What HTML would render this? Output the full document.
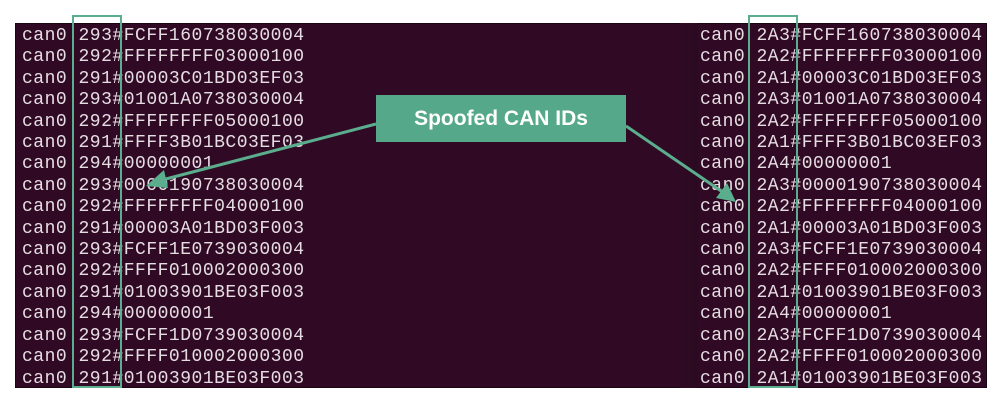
<!DOCTYPE html>
<html><head><style>
body{margin:0;width:1000px;height:401px;background:#fff;position:relative;overflow:hidden}
.panel{position:absolute;left:15px;top:23px;width:972px;height:365px;background:#300a24;border:1px solid #1a0612;box-sizing:border-box}
.dark{position:absolute;left:680px;top:23px;width:18px;height:365px;background:linear-gradient(90deg,#300a24,#2a0a20)}
.txt{position:absolute;top:26px;font-family:"Liberation Mono",monospace;font-size:18px;letter-spacing:0.5px;line-height:21.4px;color:#e6dde3;white-space:pre}
.box{position:absolute;top:15px;height:373px;border:2.5px solid #5aae8e;box-sizing:border-box}
.call{position:absolute;left:376px;top:95px;width:250px;height:47px;background:#55a98a;color:#fff;font-family:"Liberation Sans",sans-serif;font-weight:bold;font-size:21px;display:flex;align-items:center;justify-content:center}
</style></head><body>
<div class="panel"></div>
<div class="dark"></div>
<div class="txt" style="left:22px">can0 293#FCFF160738030004
can0 292#FFFFFFFF03000100
can0 291#00003C01BD03EF03
can0 293#01001A0738030004
can0 292#FFFFFFFF05000100
can0 291#FFFF3B01BC03EF03
can0 294#00000001
can0 293#0000190738030004
can0 292#FFFFFFFF04000100
can0 291#00003A01BD03F003
can0 293#FCFF1E0739030004
can0 292#FFFF010002000300
can0 291#01003901BE03F003
can0 294#00000001
can0 293#FCFF1D0739030004
can0 292#FFFF010002000300
can0 291#01003901BE03F003</div>
<div class="txt" style="left:700px">can0 2A3#FCFF160738030004
can0 2A2#FFFFFFFF03000100
can0 2A1#00003C01BD03EF03
can0 2A3#01001A0738030004
can0 2A2#FFFFFFFF05000100
can0 2A1#FFFF3B01BC03EF03
can0 2A4#00000001
can0 2A3#0000190738030004
can0 2A2#FFFFFFFF04000100
can0 2A1#00003A01BD03F003
can0 2A3#FCFF1E0739030004
can0 2A2#FFFF010002000300
can0 2A1#01003901BE03F003
can0 2A4#00000001
can0 2A3#FCFF1D0739030004
can0 2A2#FFFF010002000300
can0 2A1#01003901BE03F003</div>
<div class="box" style="left:72px;width:50px"></div>
<div class="box" style="left:748px;width:50px"></div>
<svg width="1000" height="401" style="position:absolute;left:0;top:0">
<line x1="376" y1="124" x2="162" y2="180" stroke="#5aae8e" stroke-width="3"/>
<polygon points="146,186 164,170 168,188" fill="#5aae8e"/>
<line x1="626" y1="126" x2="724" y2="193" stroke="#5aae8e" stroke-width="3"/>
<polygon points="736,202 716,198 727,183" fill="#5aae8e"/>
</svg>
<div class="call">Spoofed CAN IDs</div>
</body></html>
